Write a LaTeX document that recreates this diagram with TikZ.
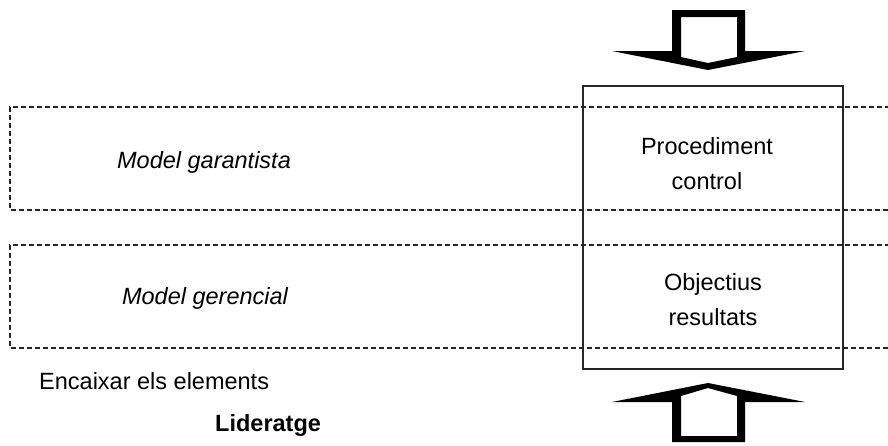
\documentclass[tikz,border=0pt]{standalone}
\usepackage{fontspec}
\setmainfont{Liberation Sans}
\begin{document}
\begin{tikzpicture}[x=1pt,y=-1pt,
  band/.style={line width=2.6pt,dash pattern=on 5pt off 3pt,draw=black!85},
  frame/.style={draw=black!85,line width=2.5pt},
  label/.style={font=\fontsize{23.5}{35}\selectfont,align=center,inner sep=0pt},
  blockarrow/.style={fill=black,even odd rule}]
  \useasboundingbox (0,0) rectangle (888,445);
  % dashed bands, open on the right
  \draw[band] (890,107) -- (10,107) -- (10,210) -- (890,210);
  \draw[band] (890,245) -- (10,245) -- (10,348) -- (890,348);
  % central frame
  \node[frame,minimum width=260pt,minimum height=283pt,inner sep=0pt] (core) at (713,227.5) {};
  % texts
  \node[label,font=\fontsize{23.5}{35}\selectfont\itshape] (garant) at (204,162) {Model garantista};
  \node[label,font=\fontsize{23.5}{35}\selectfont\itshape] (geren) at (205,298) {Model gerencial};
  \node[label] (proc) at (707,163.5) {Procediment\\control};
  \node[label] (obj) at (713,299.5) {Objectius\\resultats};
  \node[label,anchor=west] (encaix) at (39,381) {Encaixar els elements};
  \node[label,anchor=west,font=\fontsize{23.5}{35}\selectfont\bfseries] (lider) at (215,425) {Lideratge};
  % incoming block arrow (top)
  \fill[blockarrow]
    (672,10) -- (745,10) -- (745,51) -- (805,51) -- (708,70) -- (612,51) -- (672,51) -- cycle
    (681,17) -- (737,17) -- (737,57) -- (708,63) -- (681,57) -- cycle;
  % incoming block arrow (bottom)
  \fill[blockarrow]
    (672,442) -- (745,442) -- (745,402) -- (805,402) -- (708,383) -- (612,402) -- (672,402) -- cycle
    (681,436) -- (737,436) -- (737,396) -- (708,388) -- (681,396) -- cycle;
\end{tikzpicture}
\end{document}
